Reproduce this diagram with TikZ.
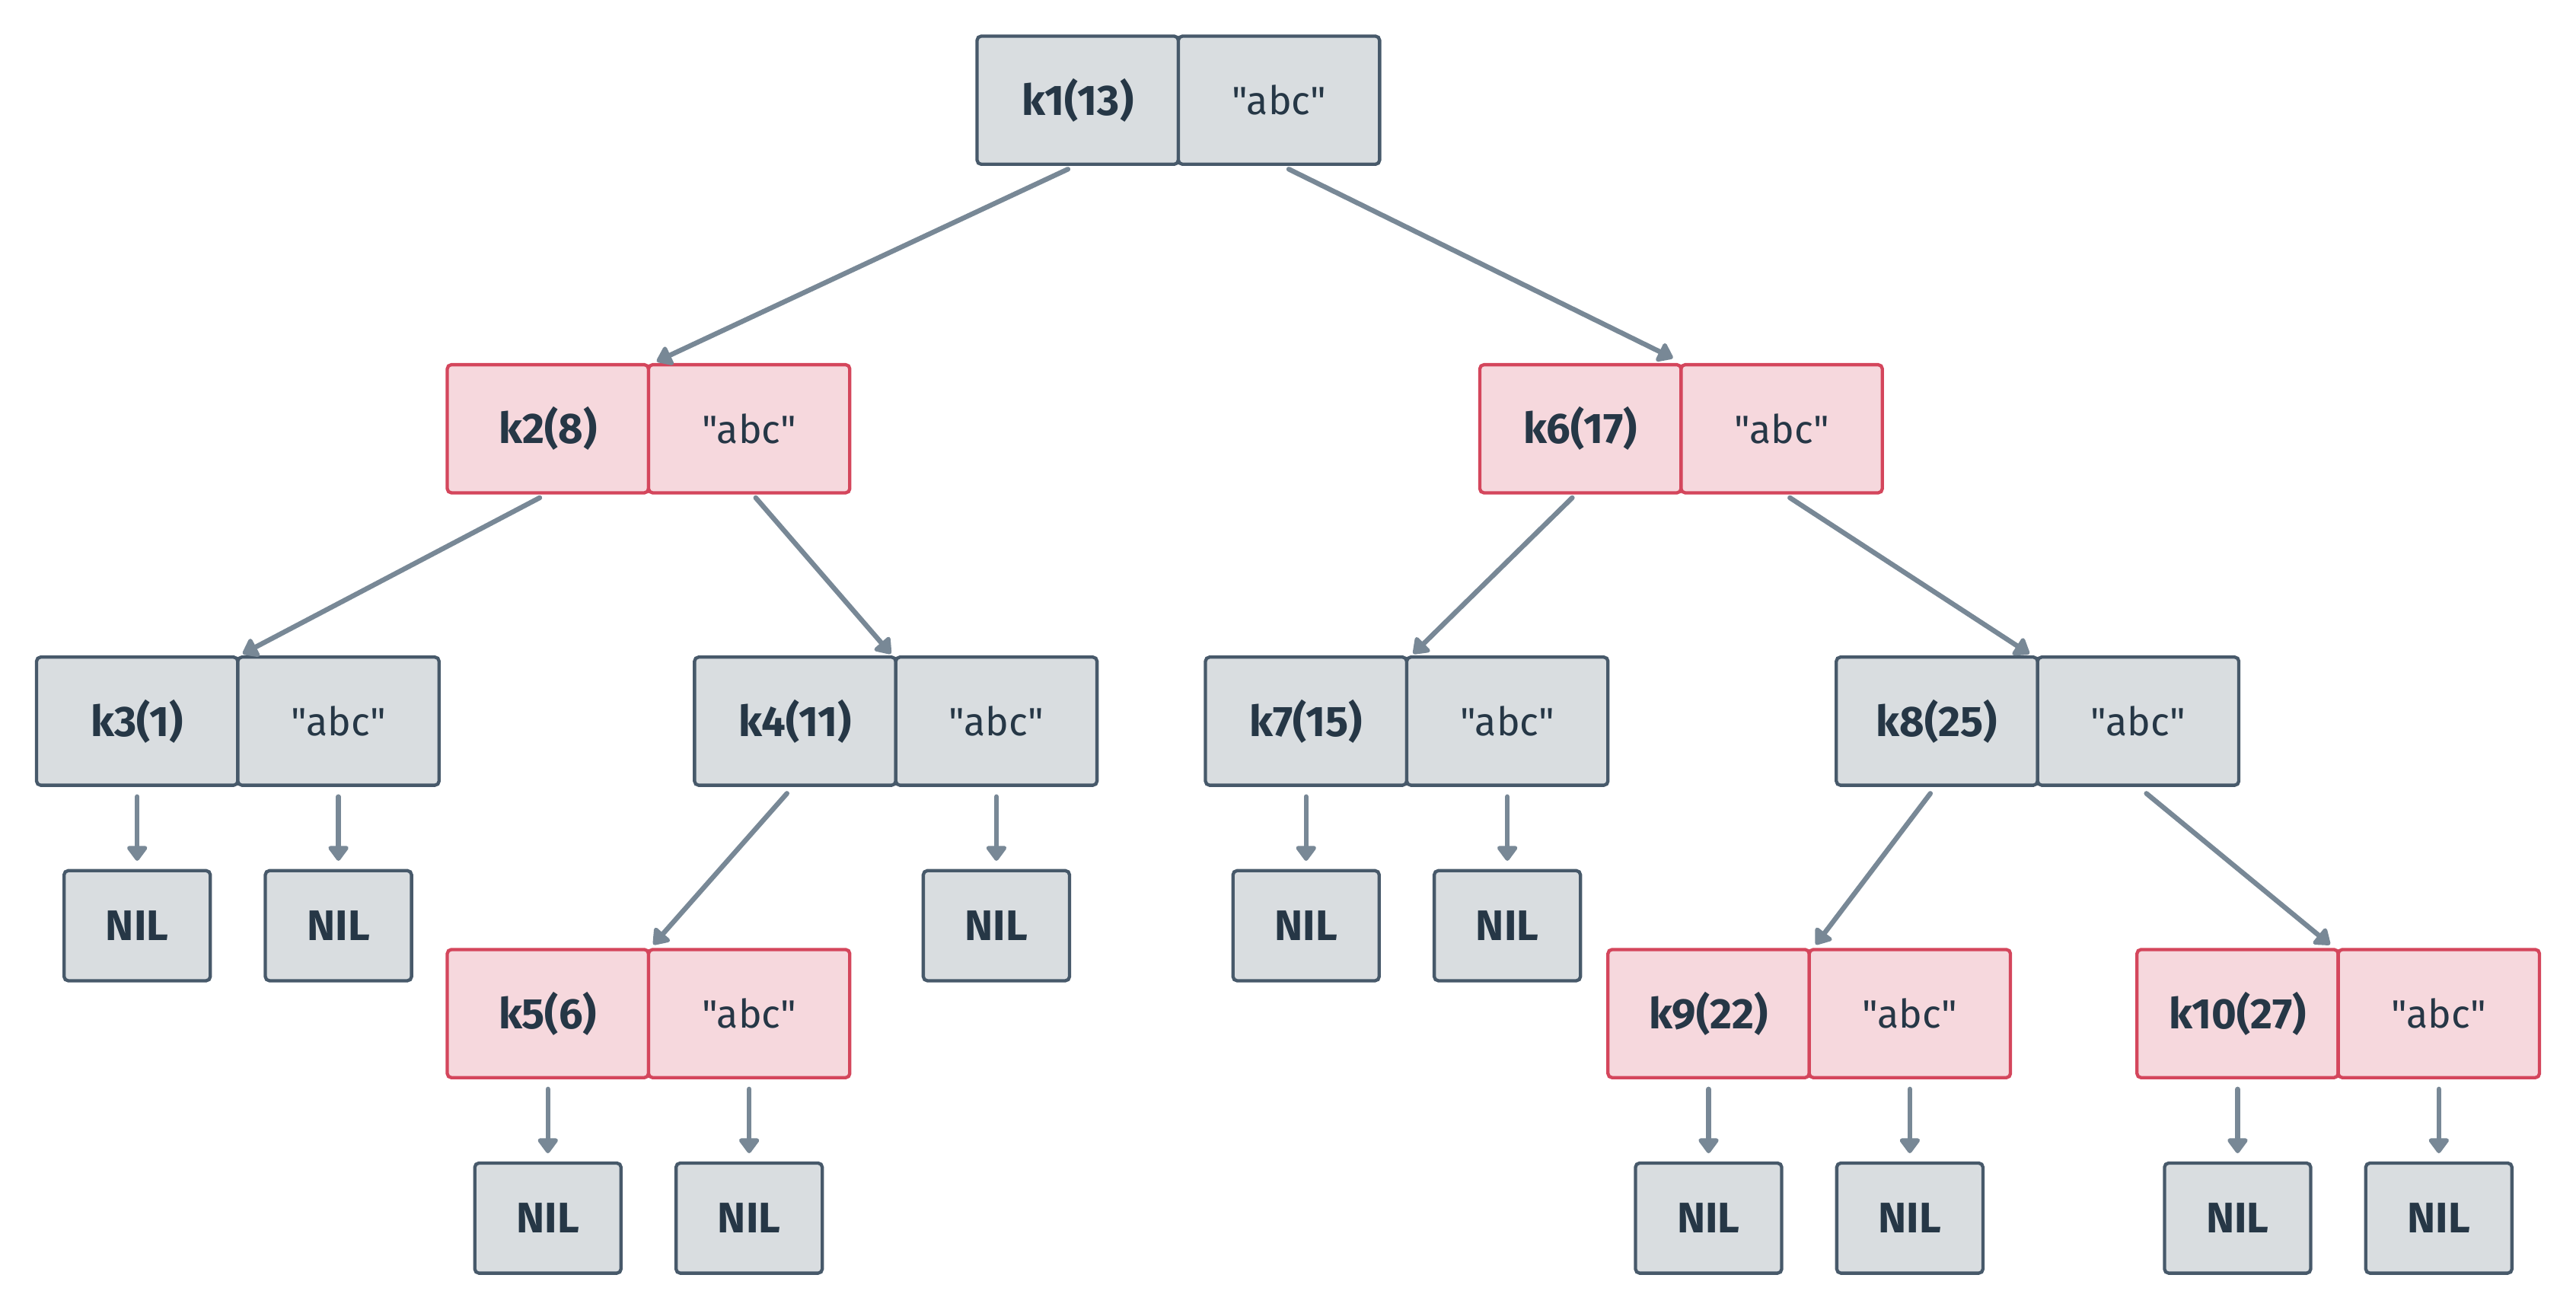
\documentclass[tikz,border=0pt]{standalone}
\usepackage{fontspec}
\setmainfont{Fira Sans}
\newfontfamily\plainfs{Fira Sans}
\usetikzlibrary{arrows.meta,calc}
\definecolor{gfill}{HTML}{D9DDE0}
\definecolor{gline}{HTML}{47596A}
\definecolor{rfill}{HTML}{F6D8DD}
\definecolor{rline}{HTML}{D4465C}
\definecolor{txt}{HTML}{263746}
\definecolor{arrc}{HTML}{788896}
\newcommand{\qabc}{{\plainfs "abc"}}
\tikzset{
  cellbase/.style={rectangle, rounded corners=2.5pt, line width=2pt, outer sep=0pt, inner sep=0pt,
    minimum width=122.5pt, minimum height=78pt, text=txt, font=\fontsize{24}{28}\selectfont},
  gk/.style={cellbase, draw=gline, fill=gfill, font=\fontsize{26}{30}\selectfont\bfseries},
  gv/.style={cellbase, draw=gline, fill=gfill},
  rk/.style={cellbase, draw=rline, fill=rfill, font=\fontsize{26}{30}\selectfont\bfseries},
  rv/.style={cellbase, draw=rline, fill=rfill},
  nilbox/.style={rectangle, rounded corners=2.5pt, line width=2pt, outer sep=0pt, inner sep=0pt,
    draw=gline, fill=gfill, minimum width=89pt, minimum height=67pt, text=txt,
    font=\fontsize{26}{30}\selectfont\bfseries},
  arr/.style={draw=arrc, line width=3pt, line cap=round, -{Triangle[length=10pt,width=14pt,round]}, fill=arrc},
}
\begin{document}
\begin{tikzpicture}[x=1pt,y=1pt]
\useasboundingbox (0,0) rectangle (1568,-797);
% level 1
\node[gk] (k1) at (656,-61) {k1(13)};
\node[gv, anchor=west] (v1) at (k1.east) {\qabc};
% level 2
\node[rk] (k2) at (333.5,-261) {k2(8)};
\node[rv, anchor=west] (v2) at (k2.east) {\qabc};
\node[rk] (k6) at (962,-261) {k6(17)};
\node[rv, anchor=west] (v6) at (k6.east) {\qabc};
% level 3
\node[gk] (k3) at (83.5,-439) {k3(1)};
\node[gv, anchor=west] (v3) at (k3.east) {\qabc};
\node[gk] (k4) at (484,-439) {k4(11)};
\node[gv, anchor=west] (v4) at (k4.east) {\qabc};
\node[gk] (k7) at (795,-439) {k7(15)};
\node[gv, anchor=west] (v7) at (k7.east) {\qabc};
\node[gk] (k8) at (1179,-439) {k8(25)};
\node[gv, anchor=west] (v8) at (k8.east) {\qabc};
% level 4
\node[rk] (k5) at (333.5,-617) {k5(6)};
\node[rv, anchor=west] (v5) at (k5.east) {\qabc};
\node[rk] (k9) at (1040,-617) {k9(22)};
\node[rv, anchor=west] (v9) at (k9.east) {\qabc};
\node[rk] (k10) at (1362,-617) {k10(27)};
\node[rv, anchor=west] (v10) at (k10.east) {\qabc};
% NIL boxes
\node[nilbox] (n3a) at (k3.center |- 0,-563.5) {NIL};
\node[nilbox] (n3b) at (v3.center |- 0,-563.5) {NIL};
\node[nilbox] (n4b) at (v4.center |- 0,-563.5) {NIL};
\node[nilbox] (n7a) at (k7.center |- 0,-563.5) {NIL};
\node[nilbox] (n7b) at (v7.center |- 0,-563.5) {NIL};
\node[nilbox] (n5a) at (k5.center |- 0,-741.5) {NIL};
\node[nilbox] (n5b) at (v5.center |- 0,-741.5) {NIL};
\node[nilbox] (n9a) at (k9.center |- 0,-741.5) {NIL};
\node[nilbox] (n9b) at (v9.center |- 0,-741.5) {NIL};
\node[nilbox] (n10a) at (k10.center |- 0,-741.5) {NIL};
\node[nilbox] (n10b) at (v10.center |- 0,-741.5) {NIL};
% vertical arrows
\foreach \a/\b in {k3/n3a, v3/n3b, v4/n4b, k7/n7a, v7/n7b, k5/n5a, v5/n5b, k9/n9a, v9/n9b, k10/n10a, v10/n10b}{
  \draw[arr, shorten <=7pt, shorten >=6pt] (\a.south) -- (\b.north);
}
% diagonal arrows
\draw[arr] ([xshift=-6pt,yshift=-3pt]k1.south) -- ([xshift=5pt,yshift=2pt]k2.north east);
\draw[arr] ([xshift=6pt,yshift=-3pt]v1.south) -- ([xshift=-5pt,yshift=4pt]k6.north east);
\draw[arr] ([xshift=-5pt,yshift=-3pt]k2.south) -- ([xshift=3pt,yshift=2pt]k3.north east);
\draw[arr] ([xshift=4pt,yshift=-3pt]v2.south) -- ([xshift=-3pt,yshift=2pt]k4.north east);
\draw[arr] ([xshift=-5pt,yshift=-3pt]k6.south) -- ([xshift=4pt,yshift=2pt]k7.north east);
\draw[arr] ([xshift=5pt,yshift=-3pt]v6.south) -- ([xshift=-5pt,yshift=2pt]k8.north east);
\draw[arr] ([xshift=-5pt,yshift=-5pt]k4.south) -- ([xshift=3pt,yshift=3pt]k5.north east);
\draw[arr] ([xshift=-4pt,yshift=-5pt]k8.south) -- ([xshift=4pt,yshift=3pt]k9.north east);
\draw[arr] ([xshift=5pt,yshift=-5pt]v8.south) -- ([xshift=-5pt,yshift=3pt]k10.north east);
\end{tikzpicture}
\end{document}
